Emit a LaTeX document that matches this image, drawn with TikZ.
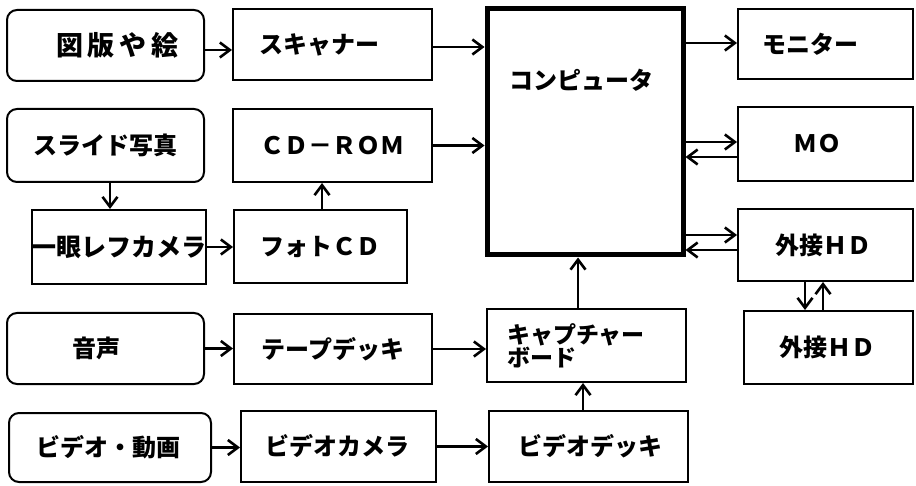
\documentclass[tikz,border=0pt]{standalone}
\usepackage{fontspec}
\setmainfont{Noto Sans CJK JP}
\usetikzlibrary{arrows.meta}

\tikzset{
  box/.style={draw, line width=2pt, inner sep=0pt},
  rbox/.style={box, rounded corners=10pt},
  lbl/.style={inner sep=0pt, font=\fontsize{24}{26}\selectfont\bfseries},
  conn/.style={line width=2.4pt, -{Straight Barb[length=10pt, width=15pt, line width=2.6pt]}}
}

\begin{document}
\begin{tikzpicture}[x=1pt,y=-1pt]
\useasboundingbox (0,0) rectangle (916,486);

% sources (rounded boxes)
\node[rbox, minimum width=197pt, minimum height=71pt] (zuhan) at (105.5,45.5) {};
\node[rbox, minimum width=197pt, minimum height=73pt] (slide) at (105.5,145.5) {};
\node[rbox, minimum width=197pt, minimum height=71pt] (audio) at (105.5,348.5) {};
\node[rbox, minimum width=202pt, minimum height=69pt] (video) at (110,447.5) {};

% devices
\node[box, minimum width=199pt, minimum height=71pt] (scanner) at (332.5,44.5) {};
\node[box, minimum width=199pt, minimum height=73pt] (cdrom) at (332.5,145.5) {};
\node[box, minimum width=174pt, minimum height=74pt] (camera) at (119,247) {};
\node[box, minimum width=173pt, minimum height=73pt] (photocd) at (320.5,246.5) {};
\node[box, minimum width=198pt, minimum height=70pt] (tape) at (333,349) {};
\node[box, minimum width=195pt, minimum height=71pt] (vcam) at (338.5,446.5) {};
\node[box, minimum width=199pt, minimum height=73pt] (capture) at (586.5,345.5) {};
\node[box, minimum width=199pt, minimum height=71pt] (vdeck) at (588.5,446.5) {};

% computer
\node[draw, line width=5pt, inner sep=0pt, minimum width=196pt, minimum height=246pt] (comp) at (585,132) {};

% outputs
\node[box, minimum width=175pt, minimum height=70pt] (monitor) at (825.5,44) {};
\node[box, minimum width=175pt, minimum height=74pt] (mo) at (825.5,144) {};
\node[box, minimum width=175pt, minimum height=72pt] (hd1) at (825.5,245) {};
\node[box, minimum width=169pt, minimum height=73pt] (hd2) at (828.5,347.5) {};

% labels
\node[lbl, font=\fontsize{27}{29}\selectfont\bfseries, xshift=12pt] (zuhanT) at (zuhan) {図\hspace{5pt}版\hspace{5pt}や\hspace{5pt}絵};
\node[lbl] (slideT) at (slide) {スライド写真};
\node[lbl, xshift=-9.5pt] (audioT) at (audio) {音声};
\node[lbl, xshift=-1.5pt] (videoT) at (video) {ビデオ・動画};
\node[lbl, xshift=-13pt] (scannerT) at (scanner) {スキャナー};
\node[lbl] (cdromT) at (cdrom) {ＣＤ－ＲＯＭ};
\node[lbl, font=\fontsize{25}{27}\selectfont\bfseries] (cameraT) at (camera) {一眼レフカメラ};
\node[lbl] (photocdT) at (photocd) {フォトＣＤ};
\node[lbl] (tapeT) at (tape) {テープデッキ};
\node[lbl, xshift=-1pt] (vcamT) at (vcam) {ビデオカメラ};
\node[lbl, font=\fontsize{23}{21}\selectfont\bfseries, align=left, anchor=west] (captureT) at ([xshift=21pt]capture.west) {キャプチャー\\ボード};
\node[lbl, xshift=1.5pt] (vdeckT) at (vdeck) {ビデオデッキ};
\node[lbl] (compT) at (581.5,80) {コンピュータ};
\node[lbl, xshift=-15pt] (monitorT) at (monitor) {モニター};
\node[lbl, xshift=-8.5pt] (moT) at (mo) {ＭＯ};
\node[lbl, xshift=-2pt] (hd1T) at (hd1) {外接ＨＤ};
\node[lbl, xshift=-1pt] (hd2T) at (hd2) {外接ＨＤ};

% connectors
\draw[conn] ([yshift=-4.5pt]zuhan.east) -- ([yshift=-4.5pt]zuhan.east -| scanner.west);
\draw[conn] ([yshift=-2.5pt]scanner.east) -- ([yshift=-2.5pt]scanner.east -| comp.west);
\draw[conn] (cdrom.east) -- (cdrom.east -| comp.west);
\draw[conn] ([xshift=4.5pt]slide.south) -- ([xshift=4.5pt]slide.south |- camera.north);
\draw[conn] (camera.east) -- (camera.east -| photocd.west);
\draw[conn] ([xshift=1.5pt]photocd.north) -- ([xshift=1.5pt]photocd.north |- cdrom.south);
\draw[conn] (audio.east) -- (audio.east -| tape.west);
\draw[conn] (tape.east) -- (tape.east -| capture.west);
\draw[conn] (video.east) -- (video.east -| vcam.west);
\draw[conn] (vcam.east) -- (vcam.east -| vdeck.west);
\draw[conn] ([xshift=-5.5pt]vdeck.north) -- ([xshift=-5.5pt]vdeck.north |- capture.south);
\draw[conn] ([xshift=-8.5pt]capture.north) -- ([xshift=-8.5pt]capture.north |- comp.south);
\draw[conn] ([yshift=1pt]monitor.west -| comp.east) -- ([yshift=1pt]monitor.west);
\draw[conn] ([yshift=2pt]mo.west -| comp.east) -- ([yshift=2pt]mo.west);
\draw[conn] ([yshift=-13pt]mo.west) -- ([yshift=-13pt]mo.west -| comp.east);
\draw[conn] ([yshift=10pt]hd1.west -| comp.east) -- ([yshift=10pt]hd1.west);
\draw[conn] ([yshift=-5pt]hd1.west) -- ([yshift=-5pt]hd1.west -| comp.east);
\draw[conn] ([xshift=-20.5pt]hd1.south) -- ([xshift=-20.5pt]hd1.south |- hd2.north);
\draw[conn] ([xshift=-2.5pt]hd2.north -| hd1.south) -- ([xshift=-2.5pt]hd1.south);
\end{tikzpicture}
\end{document}
